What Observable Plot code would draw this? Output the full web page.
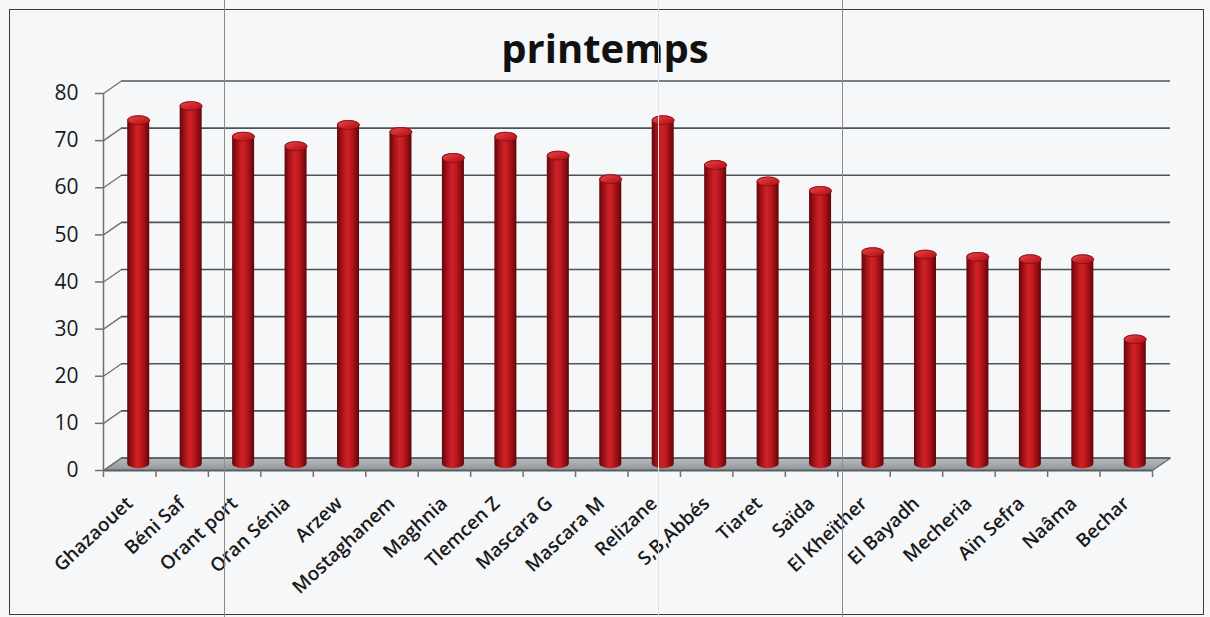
<!DOCTYPE html>
<html>
<head>
<meta charset="utf-8">
<script src="https://cdn.jsdelivr.net/npm/d3@7"></script>
<script src="https://cdn.jsdelivr.net/npm/@observablehq/plot@0.6"></script>
<style>
  html, body { margin: 0; padding: 0; background: #f6f7f9; }
  #wrap { position: relative; width: 1210px; height: 617px; overflow: hidden; background: #f6f7f9; }
  #title {
    position: absolute; left: 0; top: 28px; width: 1210px; text-align: center;
    font: bold 40px/40px "Open Sans", sans-serif; color: #111;
  }
  #frame {
    position: absolute; left: 9px; top: 9px; width: 1195px; height: 606px;
    border: 1.5px solid #3a3a3a; box-sizing: border-box; pointer-events: none;
  }
  .sheetline { position: absolute; top: 0; width: 1px; height: 617px; background: #8a8a8a; }
</style>
</head>
<body>
<div id="wrap">
  <div id="chart"></div>
  <div id="title">printemps</div>
  <div id="frame"></div>
  <div class="sheetline" style="left:224px"></div>
  <div class="sheetline" style="left:842px"></div>
  <div class="sheetline" style="left:658px; background:#e2e2e2"></div>
</div>
<script>
// Spring values per station
const categories = [
  "Ghazaouet", "Béni Saf", "Orant port", "Oran Sénia", "Arzew", "Mostaghanem",
  "Maghnia", "Tlemcen Z", "Mascara G", "Mascara M", "Relizane", "S,B,Abbés",
  "Tiaret", "Saïda", "El Kheïther", "El Bayadh", "Mecheria", "Aïn Sefra", "Naâma", "Bechar"
];
const values = [
  73, 76, 69.5, 67.5, 72, 70.5,
  65, 69.5, 65.5, 60.5, 73, 63.5,
  60, 58, 45, 44.5, 44, 43.5, 43.5, 26.5
];
const yTicks = [0, 10, 20, 30, 40, 50, 60, 70, 80];

const data = categories.map((name, i) => ({name, i, value: values[i]}));

// Layout
const W = 1210, H = 617;
const mL = 103, mR = 58, mT = 93, mB = 147;
const n = categories.length;
const yMax = 80;
// Pixel offset of the back wall relative to the front plane (pseudo-3D depth)
const DX = 18, DY = -12.5;
const pxX = (W - mL - mR) / n;
const pxY = (H - mT - mB) / yMax;
const du = DX / pxX, dv = -DY / pxY;
const hw = 11 / pxX; // cylinder half-width in x units

// Floor outline (front edge on y = 0, back edge pushed into depth)
const floor = [[0, 0], [n, 0], [n + du, dv], [du, dv], [0, 0]];

// Elliptical symbol for the cylinder caps
const ellipse = {
  draw(context, size) {
    const rx = Math.sqrt(size / Math.PI), ry = rx * 0.4, k = 0.5523;
    context.moveTo(rx, 0);
    context.bezierCurveTo(rx, ry * k, rx * k, ry, 0, ry);
    context.bezierCurveTo(-rx * k, ry, -rx, ry * k, -rx, 0);
    context.bezierCurveTo(-rx, -ry * k, -rx * k, -ry, 0, -ry);
    context.bezierCurveTo(rx * k, -ry, rx, -ry * k, rx, 0);
    context.closePath();
  }
};

const plot = Plot.plot({
  width: W,
  height: H,
  marginLeft: mL,
  marginRight: mR,
  marginTop: mT,
  marginBottom: mB,
  style: {background: "transparent", fontFamily: "Open Sans, sans-serif", color: "#1a1a1a", overflow: "visible"},
  x: {domain: [0, n]},
  y: {domain: [0, yMax]},
  marks: [
    // floor slab
    Plot.line(floor, {x: d => d[0], y: d => d[1], fill: "url(#floorFill)", stroke: "#666b70", strokeWidth: 1.2}),
    // back-wall gridlines
    Plot.ruleY(yTicks, {dx: DX, dy: DY, stroke: "#4a545e", strokeWidth: 1.7}),
    // side-wall connectors from the front axis to the back wall
    Plot.link(yTicks, {x1: 0, x2: du, y1: d => d, y2: d => d + dv, stroke: "#707070", strokeWidth: 1.3}),
    // front value axis line
    Plot.ruleX([0], {y1: 0, y2: yMax, stroke: "#707070", strokeWidth: 1.5}),
    // floor front edge
    Plot.ruleY([0], {stroke: "#5a5f64", strokeWidth: 2}),
    Plot.axisY({
      ticks: yTicks, tickSize: 8, tickPadding: 17, fontSize: 21, fontWeight: 500, label: null,
      stroke: "#707070", strokeWidth: 1.5
    }),
    // category boundary ticks
    Plot.axisX({
      ticks: d3.range(n + 1), tickSize: 7, tickFormat: () => "", label: null,
      stroke: "#707070", strokeWidth: 1.5
    }),
    // category labels
    Plot.axisX({
      ticks: categories.map((_, i) => i + 0.5), tickSize: 0, tickPadding: 30,
      tickRotate: -43, fontSize: 19, fontWeight: 600, label: null,
      tickFormat: d => categories[Math.floor(d)]
    }),
    // cylinders
    Plot.rectY(data, {
      x1: d => d.i + 0.5 - hw, x2: d => d.i + 0.5 + hw, y: "value",
      dx: DX / 2, dy: DY / 2, insetTop: -4.4, insetBottom: -4.4,
      rx: 11, ry: 4.4, fill: "url(#cyl)"
    }),
    // cylinder caps
    Plot.dot(data, {
      x: d => d.i + 0.5, y: "value", r: 11, symbol: ellipse,
      dx: DX / 2, dy: DY / 2, fill: "url(#cap)", stroke: "#7d0a0e", strokeWidth: 0.7
    })
  ]
});

// Gradients for the shaded cylinders and the floor
const defs = document.createElementNS("http://www.w3.org/2000/svg", "defs");
defs.innerHTML = `
  <linearGradient id="cyl" x1="0" y1="0" x2="1" y2="0">
    <stop offset="0" stop-color="#620609"/>
    <stop offset="0.22" stop-color="#a3121a"/>
    <stop offset="0.45" stop-color="#cf2227"/>
    <stop offset="0.62" stop-color="#c21a20"/>
    <stop offset="0.85" stop-color="#8e0c12"/>
    <stop offset="1" stop-color="#5c0508"/>
  </linearGradient>
  <linearGradient id="cap" x1="0" y1="0" x2="1" y2="1">
    <stop offset="0" stop-color="#e54a4a"/>
    <stop offset="0.6" stop-color="#c92025"/>
    <stop offset="1" stop-color="#a2121a"/>
  </linearGradient>
  <linearGradient id="floorFill" x1="0" y1="0" x2="0" y2="1">
    <stop offset="0" stop-color="#b9bdc1"/>
    <stop offset="1" stop-color="#8f9498"/>
  </linearGradient>`;
plot.insertBefore(defs, plot.firstChild);

document.getElementById("chart").appendChild(plot);
</script>
</body>
</html>
